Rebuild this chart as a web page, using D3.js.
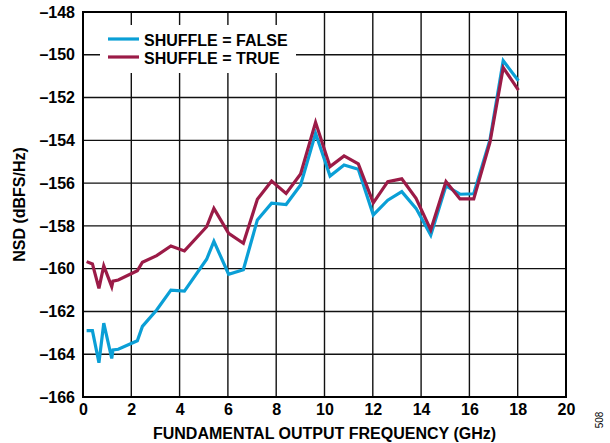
<!DOCTYPE html>
<html><head><meta charset="utf-8">
<script src="https://cdn.jsdelivr.net/npm/d3@7"></script>
<style>body{margin:0;background:#fff}svg{display:block}</style>
</head><body>
<svg id="c" width="610" height="443"></svg>
<script>
const freq = [0.15, 0.39, 0.66, 0.86, 1.19, 1.24, 1.46, 2.25, 2.46, 3.05, 3.64, 4.2, 5.12, 5.42, 6.03, 6.64, 7.22, 7.81, 8.41, 9.01, 9.63, 10.23, 10.81, 11.4, 12.02, 12.62, 13.2, 13.79, 14.4, 15.03, 15.61, 16.18, 16.85, 17.4, 18.03];
const shuffleFalse = [-162.9, -162.9, -164.4, -162.55, -164.2, -163.8, -163.77, -163.37, -162.7, -161.93, -161.0, -161.05, -159.56, -158.72, -160.26, -160.05, -157.72, -156.94, -157.0, -156.09, -153.67, -155.67, -155.15, -155.35, -157.49, -156.8, -156.4, -157.18, -158.43, -156.13, -156.52, -156.5, -153.98, -150.28, -151.21];
const shuffleTrue = [-159.67, -159.78, -160.92, -159.87, -160.84, -160.58, -160.53, -160.1, -159.7, -159.39, -158.94, -159.17, -158.04, -157.18, -158.35, -158.81, -156.76, -155.9, -156.48, -155.57, -153.16, -155.23, -154.73, -155.1, -156.92, -155.93, -155.8, -156.71, -158.19, -155.93, -156.74, -156.74, -154.1, -150.6, -151.65];
const xTicks = [0, 2, 4, 6, 8, 10, 12, 14, 16, 18, 20];
const yTicks = [-148, -150, -152, -154, -156, -158, -160, -162, -164, -166];
const seriesNames = ["SHUFFLE = FALSE", "SHUFFLE = TRUE"];
const seriesColors = ["#0a9fd6", "#9b1b47"];

const svg = d3.select("#c");
const L = 83, R = 566, T = 12, B = 397;
const x = d3.scaleLinear().domain([0, 20]).range([L, R]);
const y = d3.scaleLinear().domain([-148, -166]).range([T, B]);
const font = "'Liberation Sans', Arial, sans-serif";
const fs = 16;
const fmt = v => v < 0 ? "\u2013" + Math.abs(v) : String(v);

// grid
const g = svg.append("g");
g.selectAll("line.v").data(xTicks.slice(1, -1)).enter().append("line")
  .attr("x1", d => x(d)).attr("x2", d => x(d)).attr("y1", T).attr("y2", B)
  .attr("stroke", "#111").attr("stroke-width", 1.4);
g.selectAll("line.h").data(yTicks.slice(1, -1)).enter().append("line")
  .attr("x1", L).attr("x2", R).attr("y1", d => y(d)).attr("y2", d => y(d))
  .attr("stroke", "#111").attr("stroke-width", 1.4);

// legend background
svg.append("rect").attr("x", 100).attr("y", 25).attr("width", 196).attr("height", 48).attr("fill", "#fff");

// frame
svg.append("rect").attr("x", L).attr("y", T).attr("width", R - L).attr("height", B - T)
  .attr("fill", "none").attr("stroke", "#000").attr("stroke-width", 2);

// axes labels
const xAxis = d3.axisBottom(x).tickValues(xTicks).tickSize(0).tickPadding(7).tickFormat(d => d);
const ax = svg.append("g").attr("transform", `translate(0,${B})`).call(xAxis);
ax.select(".domain").remove();
ax.selectAll("text").attr("font-family", font).attr("font-weight", "bold").attr("font-size", fs).attr("fill", "#000");

const yAxis = d3.axisLeft(y).tickValues(yTicks).tickSize(0).tickPadding(8).tickFormat(fmt);
const ay = svg.append("g").attr("transform", `translate(${L},0)`).call(yAxis);
ay.select(".domain").remove();
ay.selectAll("text").attr("font-family", font).attr("font-weight", "bold").attr("font-size", fs).attr("fill", "#000");

// lines
const line = d3.line().x((d, i) => x(freq[i])).y(d => y(d));
[shuffleFalse, shuffleTrue].forEach((s, k) => {
  svg.append("path").datum(s).attr("d", line).attr("fill", "none")
    .attr("stroke", seriesColors[k]).attr("stroke-width", 3.2).attr("stroke-linejoin", "miter");
});

// legend
seriesNames.forEach((n, k) => {
  const yy = 39 + k * 18;
  svg.append("line").attr("x1", 108).attr("x2", 139).attr("y1", yy).attr("y2", yy)
    .attr("stroke", seriesColors[k]).attr("stroke-width", 3.2);
  svg.append("text").attr("x", 144).attr("y", yy + 6.5).text(n)
    .attr("font-family", font).attr("font-weight", "bold").attr("font-size", fs);
});

// titles
svg.append("text").attr("x", (L + R) / 2).attr("y", 439).attr("text-anchor", "middle")
  .attr("font-family", font).attr("font-weight", "bold").attr("font-size", fs)
  .text("FUNDAMENTAL OUTPUT FREQUENCY (GHz)");
svg.append("text").attr("transform", `translate(25,${(T + B) / 2}) rotate(-90)`).attr("text-anchor", "middle")
  .attr("font-family", font).attr("font-weight", "bold").attr("font-size", fs)
  .text("NSD (dBFS/Hz)");
svg.append("text").attr("transform", "translate(603,420) rotate(-90)").attr("text-anchor", "middle")
  .attr("font-family", font).attr("font-size", 10).text("508");
</script>
</body></html>
